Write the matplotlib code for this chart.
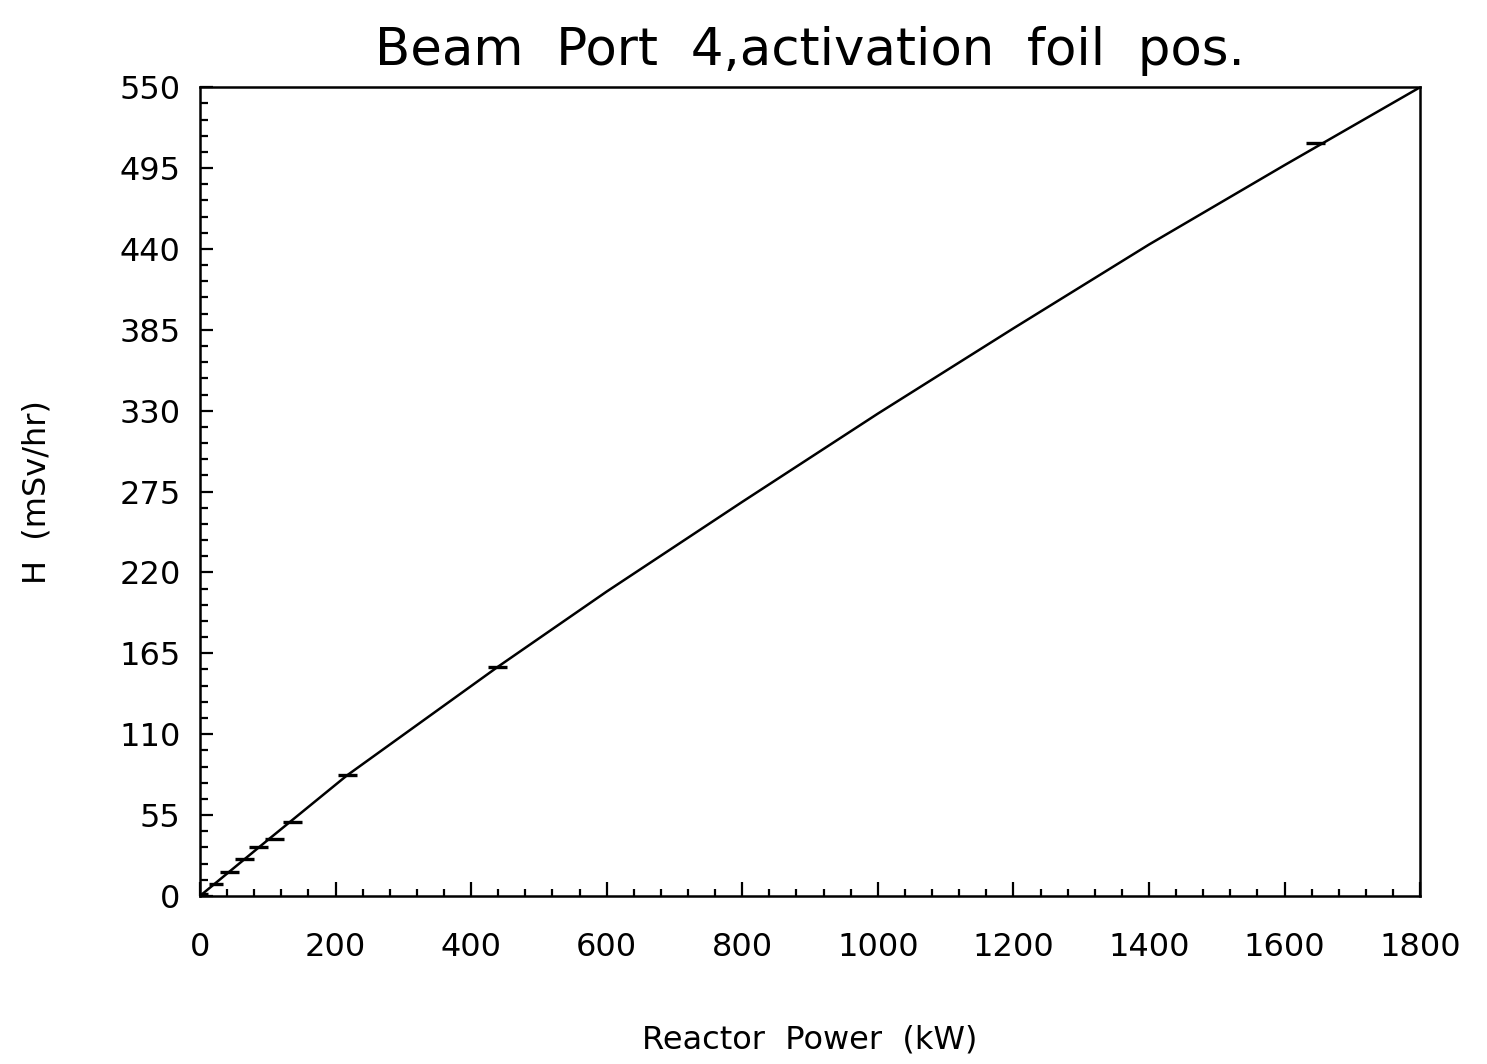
import numpy as np
from matplotlib import pyplot as plt
from matplotlib.ticker import MultipleLocator

# measured points (reactor power in kW, dose rate in mSv/hr)
power      = [7, 24, 43, 66, 87, 110, 136, 217, 439, 1645]
dose       = [1, 8, 16, 25, 33, 39, 50, 82, 156, 512]
power_err  = [5, 10, 14, 14, 14, 14, 14, 14, 14, 14]

# fitted curve
fit_power  = [0, 50, 100, 217, 440, 600, 800, 1000, 1200, 1400, 1600, 1800]
fit_dose   = [0, 19, 38, 82, 156, 207, 268, 328, 386, 443, 497, 550]

xticks = [0, 200, 400, 600, 800, 1000, 1200, 1400, 1600, 1800]
yticks = [0, 55, 110, 165, 220, 275, 330, 385, 440, 495, 550]

fig = plt.figure(figsize=(14.87, 10.64), dpi=100)
ax = fig.add_axes([0.1345, 0.158, 0.8205, 0.760])

ax.plot(fit_power, fit_dose, c='k', lw=1.8)
ax.errorbar(power, dose, xerr=power_err, fmt='none', ecolor='k', elinewidth=2.4, capsize=0)

ax.set_xlim(0, 1800)
ax.set_ylim(0, 550)
ax.set_xticks(xticks)
ax.set_yticks(yticks)
ax.set_xticklabels([str(t) for t in xticks])
ax.set_yticklabels([str(t) for t in yticks])
ax.xaxis.set_minor_locator(MultipleLocator(40))
ax.yaxis.set_minor_locator(MultipleLocator(11))

ax.tick_params(axis='both', which='both', direction='in', top=False, right=False, width=1.6)
ax.tick_params(axis='x', which='major', length=10, pad=26, labelsize=23)
ax.tick_params(axis='x', which='minor', length=5)
ax.tick_params(axis='y', which='major', length=9, pad=14, labelsize=23)
ax.tick_params(axis='y', which='minor', length=6)
for sp in ax.spines.values():
    sp.set_linewidth(1.8)

ax.set_title('Beam  Port  4,activation  foil  pos.', fontsize=37, pad=16)
ax.set_xlabel('Reactor  Power  (kW)', fontsize=23, labelpad=44)
ax.set_ylabel('H  (mSv/hr)', fontsize=23, labelpad=48)

plt.savefig('out.png', dpi=100)
